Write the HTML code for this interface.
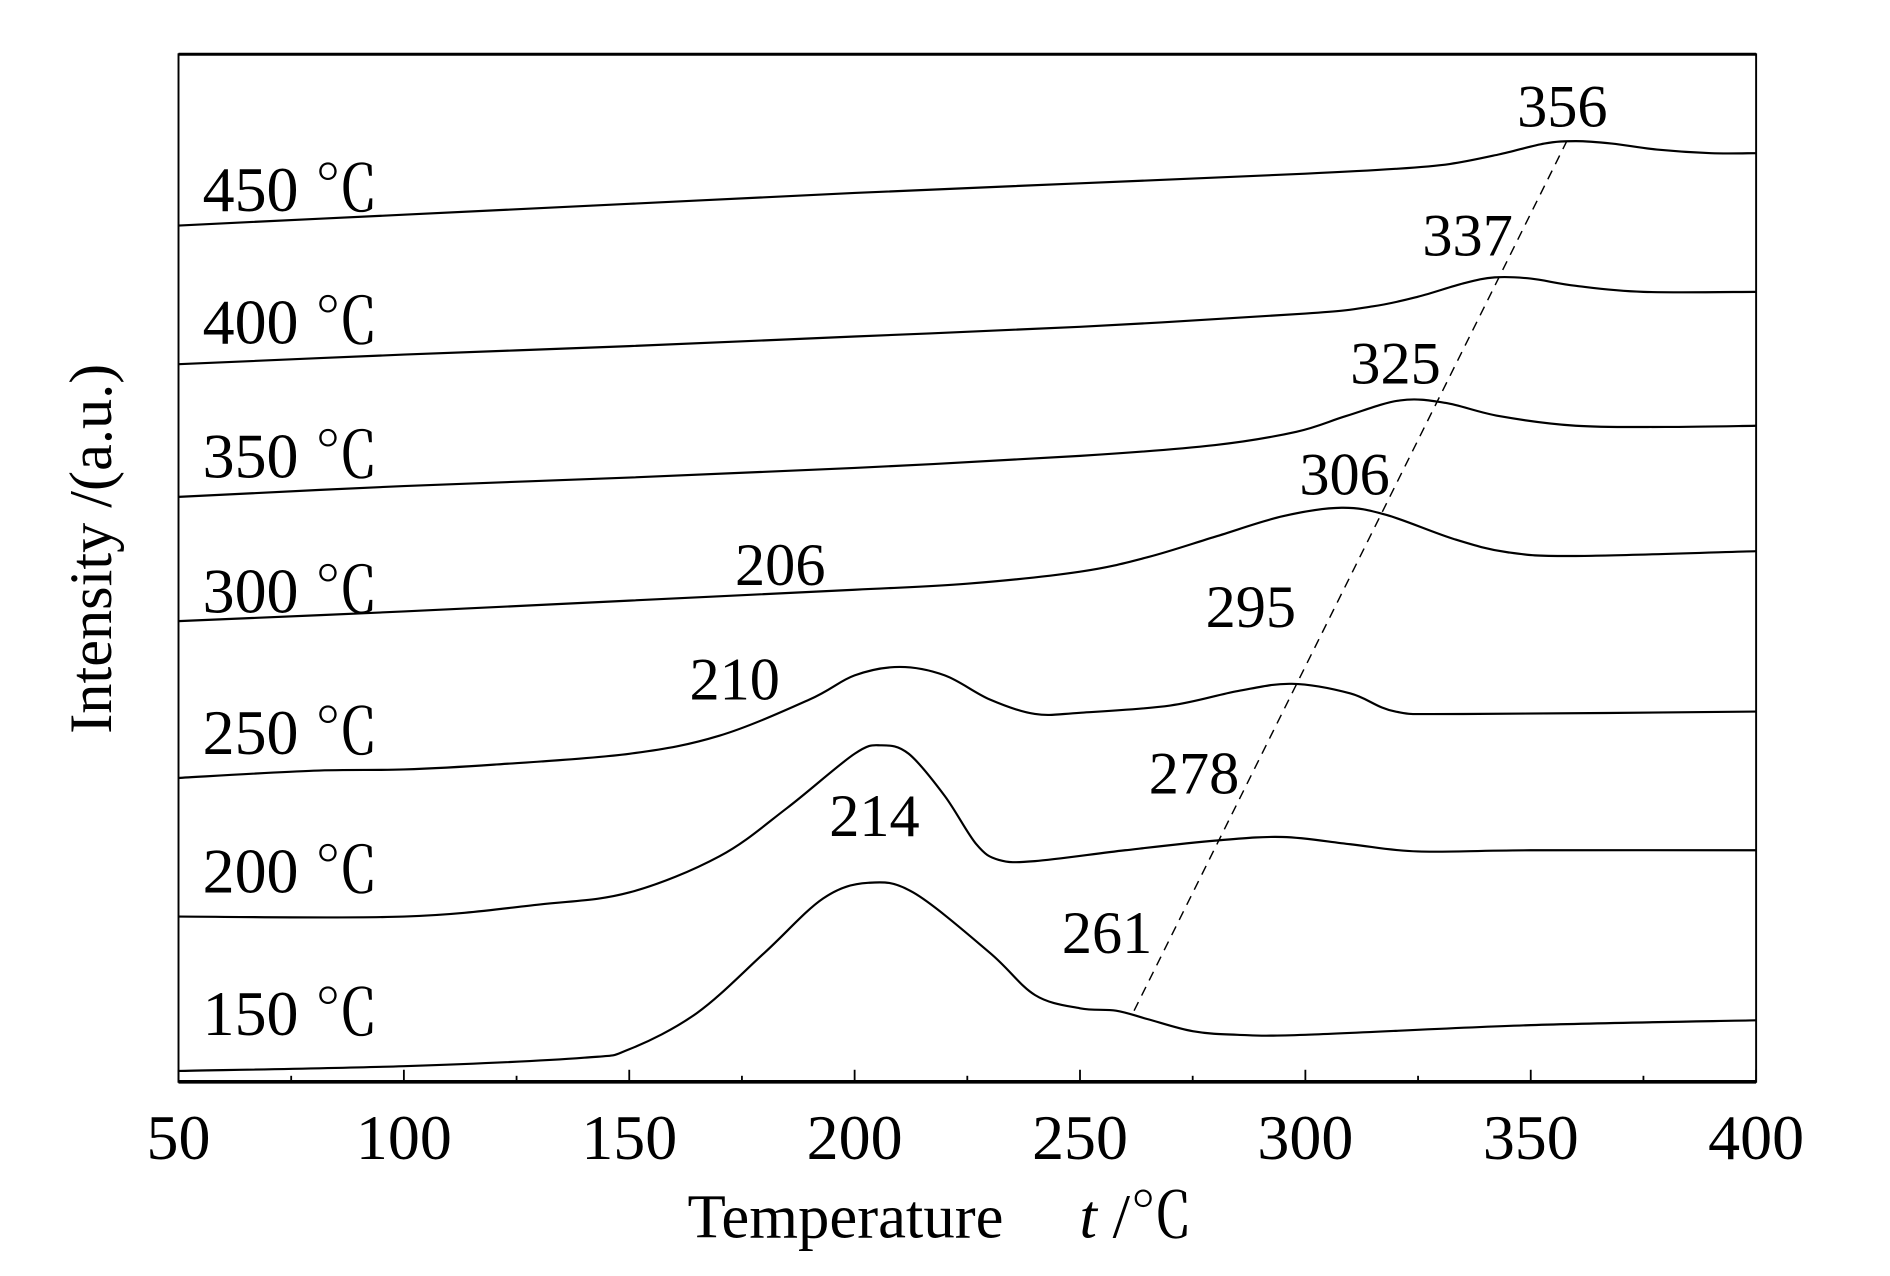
<!DOCTYPE html>
<html><head><meta charset="utf-8"><style>
html,body{margin:0;padding:0;background:#fff;}
svg{display:block;}
text{font-family:"Liberation Serif","Noto Serif CJK SC",serif;fill:#000;}
</style></head><body>
<svg id="chart" width="1890" height="1276" viewBox="0 0 1567 1058" preserveAspectRatio="none" xmlns="http://www.w3.org/2000/svg">
<rect x="0" y="0" width="1567" height="1058" fill="#fff"/>
<g id="plot"></g>
</svg>
<script>
// ---- data (temperatures in °C, intensity in a.u.) ----
const xTicks = [50,100,150,200,250,300,350,400];
const seriesLabels = ["150 ℃","200 ℃","250 ℃","300 ℃","350 ℃","400 ℃","450 ℃"];
const seriesLabelV = [3.9,15.7,27.2,38.9,50.1,61.2,72.2];
const t150 = [50,100,140,150,165,180,193,203,213,230,240,250,258,265,275,285,300,350,400];
const v150 = [0.9,1.3,2.0,2.7,5.7,10.7,15.2,16.5,15.7,10.7,7.2,6.1,5.9,5.2,4.2,3.9,3.9,4.7,5.1];
const t200 = [50,100,130,150,170,185,200,206,212,220,227,232,240,260,280,295,310,325,350,400];
const v200 = [13.7,13.7,14.7,15.7,18.7,22.7,27.2,27.9,27.2,23.7,19.7,18.4,18.3,19.2,20.0,20.3,19.7,19.1,19.2,19.2];
const t250 = [50,80,100,120,150,170,190,200,210,220,230,240,250,270,285,297,310,320,335,400];
const v250 = [25.2,25.8,25.9,26.3,27.2,28.7,31.7,33.7,34.4,33.7,31.7,30.5,30.6,31.2,32.4,33.0,32.2,30.7,30.5,30.7];
const t300 = [50,100,150,200,225,250,265,280,295,308,318,333,345,360,400];
const v300 = [38.2,39.0,39.9,40.8,41.3,42.3,43.5,45.2,46.9,47.6,47.0,45.0,43.9,43.6,44.0];
const t350 = [50,100,150,200,250,280,298,309,321,331,343,360,380,400];
const v350 = [48.5,49.4,50.1,50.9,51.9,52.8,53.9,55.2,56.5,56.3,55.2,54.4,54.3,54.4];
const t400 = [50,100,150,200,250,300,315,325,335,342,350,360,375,400];
const v400 = [59.5,60.3,61.0,61.8,62.6,63.7,64.3,65.1,66.2,66.7,66.6,66.0,65.5,65.5];
const t450 = [50,100,150,200,250,300,320,332,343,353,360,368,378,390,400];
const v450 = [71.0,71.9,72.8,73.7,74.5,75.3,75.7,76.1,76.9,77.8,78.0,77.8,77.3,77.0,77.0];
const peakLabels = ["356","337","325","306","206","295","210","278","214","261"];
const peakT = [357,336,320,308.7,183.5,287.9,173.4,275.3,204.4,256];
const peakV = [79.2,68.5,57.9,48.7,41.2,37.7,31.7,23.9,20.4,10.7];
const dashT = [262,358];
const dashV = [5.9,78.0];

// ---- axes ----
const X0=148,X1=1456,YT=45,YB=897;
function sx(t){return X0+(t-50)*(X1-X0)/350;}
function sy(v){return YB-v*10;}
const NS="http://www.w3.org/2000/svg";
const g=document.getElementById('plot');
function el(tag,attrs,parent){const e=document.createElementNS(NS,tag);for(const k in attrs)e.setAttribute(k,attrs[k]);(parent||g).appendChild(e);return e;}

const frame=el('rect',{x:X0,y:YT,width:X1-X0,height:YB-YT,fill:'none',stroke:'#000','stroke-width':1.6});


el('line',{x1:X0,y1:YB,x2:X1,y2:YB,stroke:'#000','stroke-width':3});
el('line',{x1:X0,y1:YT,x2:X1,y2:YT,stroke:'#000','stroke-width':2.5});

for(let t=50;t<=400;t+=25){
  const major=(t%50===0);
  const tk=el('line',{x1:sx(t),x2:sx(t),y1:YB,y2:YB-(major?10:5),stroke:'#000','stroke-width':1.5});
  
  
}
xTicks.forEach(t=>{
  const tx=el('text',{x:sx(t),y:961,'text-anchor':'middle','font-size':53});
  tx.textContent=t;
  
  
});
const xt=el('text',{x:570,y:1026,'font-size':52});
xt.innerHTML='Temperature<tspan x="895" font-style="italic">t</tspan><tspan> /℃</tspan>';


const yt=el('text',{x:0,y:0,'font-size':50,'text-anchor':'middle',transform:'translate(92,455) rotate(-90)'});
yt.textContent='Intensity /(a.u.)';



// ---- series ----
function pathFrom(ts,vs){
  const p=ts.map((t,i)=>[sx(t),sy(vs[i])]);
  let d='M'+p[0][0]+','+p[0][1];
  for(let i=0;i<p.length-1;i++){
    const p0=p[Math.max(0,i-1)],p1=p[i],p2=p[i+1],p3=p[Math.min(p.length-1,i+2)];
    const c1=[p1[0]+(p2[0]-p0[0])/6,p1[1]+(p2[1]-p0[1])/6];
    const c2=[p2[0]-(p3[0]-p1[0])/6,p2[1]-(p3[1]-p1[1])/6];
    d+=' C'+c1[0]+','+c1[1]+' '+c2[0]+','+c2[1]+' '+p2[0]+','+p2[1];
  }
  return d;
}
const allT=[t150,t200,t250,t300,t350,t400,t450];
const allV=[v150,v200,v250,v300,v350,v400,v450];
allT.forEach((ts,i)=>{
  const pth=el('path',{d:pathFrom(ts,allV[i]),fill:'none',stroke:'#000','stroke-width':1.8});
  
  
  const lb=el('text',{x:168,y:sy(seriesLabelV[i]),'font-size':53});
  lb.textContent=seriesLabels[i];
  
  
});
const dl=el('line',{x1:sx(dashT[0]),y1:sy(dashV[0]),x2:sx(dashT[1]),y2:sy(dashV[1]),stroke:'#000','stroke-width':1.2,'stroke-dasharray':'8,6'});


peakLabels.forEach((s,i)=>{
  const pl=el('text',{x:sx(peakT[i]),y:sy(peakV[i]),'font-size':50,'text-anchor':'middle'});
  pl.textContent=s;
  
  
});
</script>
</body></html>
